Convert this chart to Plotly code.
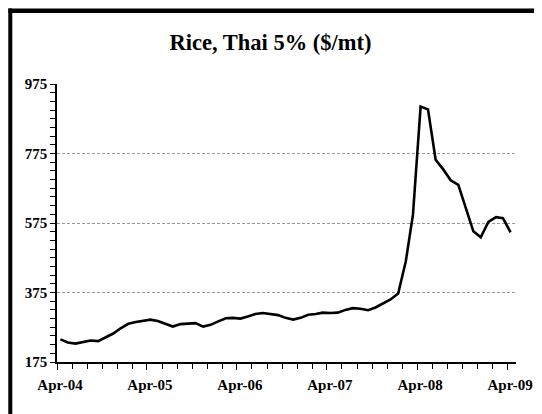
import plotly.graph_objects as go

# Monthly observations, Apr-2004 .. Apr-2009 (plotted mid-month)
months = [f"{2004 + (3 + i) // 12}-{(3 + i) % 12 + 1:02d}-15" for i in range(61)]
price = [240, 231, 228, 232, 237, 235, 245, 257, 272, 285, 290, 293,
         297, 293, 284, 277, 284, 285, 287, 277, 282, 292, 301, 302,
         300, 306, 313, 316, 313, 310, 302, 297, 302, 311, 313, 317,
         316, 317, 325, 330, 328, 324, 332, 343, 355, 372, 465, 599,
         910, 902, 757, 730, 698, 685, 618, 551, 534, 578, 592, 589,
         548]

title_text = "Rice, Thai 5% ($/mt)"
y_ticks = [175, 375, 575, 775, 975]
x_tickvals = ["2004-04-01", "2005-04-01", "2006-04-01", "2007-04-01", "2008-04-01", "2009-04-01"]
x_ticktext = ["Apr-04", "Apr-05", "Apr-06", "Apr-07", "Apr-08", "Apr-09"]

FONT = "Liberation Serif, Times New Roman, serif"

# page body has an 8px margin, so the figure is offset by 8px
W, H = 534, 406
L, R, T, B = 49, 26, 76, 52

fig = go.Figure()
fig.add_trace(go.Scatter(x=months, y=price, mode="lines",
                         line=dict(color="black", width=2.6),
                         hoverinfo="x+y", showlegend=False))

fig.update_layout(
    width=W, height=H,
    margin=dict(l=L, r=R, t=T, b=B, autoexpand=False),
    paper_bgcolor="white", plot_bgcolor="white",
    title=dict(text="<b>" + title_text + "</b>", x=(L + (W - L - R) / 2 - 16) / W, xanchor="center",
               y=1 - 34 / H, yanchor="middle", yref="container",
               font=dict(family=FONT, size=22.5, color="black")),
    font=dict(family=FONT, color="black"),
)

fig.update_xaxes(
    type="date", range=["2004-04-01", "2009-05-07"], automargin=False,
    tickmode="array", tickvals=x_tickvals, ticktext=["<b>" + t + "</b>" for t in x_ticktext],
    ticks="outside", ticklen=6, tickwidth=1.2, tickcolor="black",
    minor=dict(tickmode="linear", tick0="2004-04-01", dtick="M2", ticks="outside",
               ticklen=5, tickwidth=1.2, tickcolor="black", showgrid=False),
    showline=True, linecolor="black", linewidth=1.5,
    showgrid=False, zeroline=False,
    tickfont=dict(family=FONT, size=15, color="black"),
    ticklabelstandoff=2, ticklabelshift=3,
)

fig.update_yaxes(
    range=[175, 975], tickmode="array", tickvals=y_ticks, automargin=False,
    ticktext=["<b>" + str(v) + "</b>" for v in y_ticks],
    ticks="outside", ticklen=5, tickwidth=1.2, tickcolor="black",
    minor=dict(tickmode="linear", tick0=175, dtick=25, ticks="outside",
               ticklen=5, tickwidth=1.2, tickcolor="black", showgrid=False),
    showline=True, linecolor="black", linewidth=1.5,
    showgrid=True, gridcolor="#9a9a9a", gridwidth=1, griddash="3px,2px",
    zeroline=False,
    tickfont=dict(family=FONT, size=15, color="black"),
    ticklabelstandoff=0,
)

# Outer frame (left and top edges visible in the reference)
pw, ph = W - L - R, H - T - B
px0 = (2.3 - L) / pw
py0 = (H - B - 2.8) / ph
fig.add_shape(type="line", xref="paper", yref="paper", x0=px0, x1=px0, y0=-0.5, y1=py0 + 0.008,
              line=dict(color="black", width=4))
fig.add_shape(type="line", xref="paper", yref="paper", x0=px0 - 0.004, x1=1.2, y0=py0, y1=py0,
              line=dict(color="black", width=4.5))

fig.write_html("out.html")
